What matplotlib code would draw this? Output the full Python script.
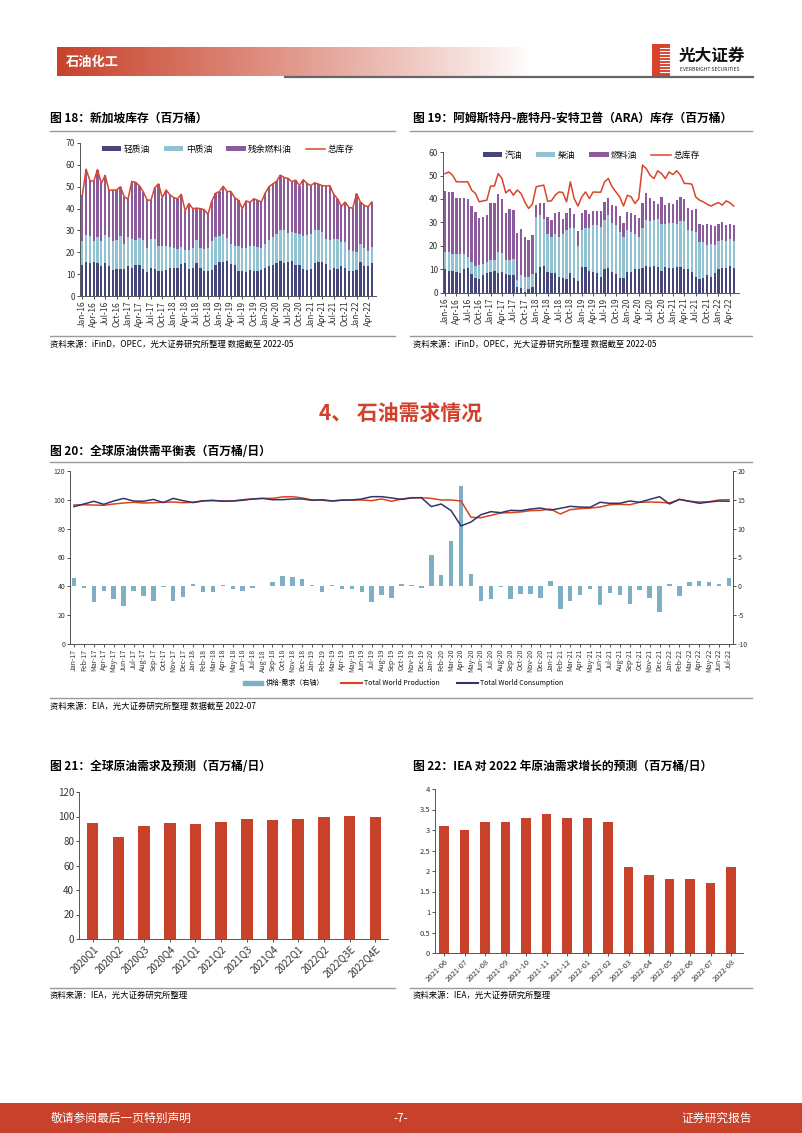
import numpy as np
import matplotlib
matplotlib.use('Agg')
import matplotlib.pyplot as plt
from matplotlib.patches import Rectangle, Patch
from matplotlib.lines import Line2D
from matplotlib.ticker import FormatStrFormatter

plt.rcParams['font.family'] = ['Noto Sans CJK SC', 'DejaVu Sans']
plt.rcParams['axes.unicode_minus'] = False

# ---------------- data ----------------
# Chart 18 : Singapore inventories (Jan-16 .. May-22)
sg_light = [14, 15.5, 15, 15.5, 15, 13.5, 15, 13.5, 12, 12.5, 12.5, 12.5,
            13.5, 13, 14, 14, 12.5, 11, 13, 12.5, 11.5, 11.5, 12, 13,
            13, 13, 14.5, 15, 12.5, 13, 15, 13, 11.5, 11.5, 12, 14,
            15.5, 15.5, 16, 14.5, 14, 11.5, 11.5, 11, 12, 11.5, 11.5, 12,
            13, 13.5, 14, 15, 16, 15, 15.5, 16, 14, 14, 12.5, 12,
            12.5, 15, 15.5, 15.5, 14.5, 12, 13, 12.5, 13.5, 13, 11.5, 11.5,
            12, 15.5, 13.5, 13.5, 15]
sg_middle = [11, 12.5, 12.5, 9.5, 12, 11.5, 13, 13.5, 13, 13, 15, 11.5,
             13.5, 13, 11.5, 12.5, 13, 11, 13, 13.5, 11.5, 11.5, 11, 9.5,
             9, 8.5, 8, 6, 8.5, 9, 10.5, 9, 10, 10.5, 13, 13,
             12, 13, 10.5, 9.5, 9, 11.5, 10.5, 11, 11, 11.5, 11, 10,
             11, 12, 13, 13.5, 14, 15, 13.5, 13.5, 15, 14.5, 15, 16,
             16, 15, 14.5, 14, 11.5, 13.5, 13, 13.5, 11, 11.5, 9.5, 9,
             8, 8.5, 8.5, 7, 7.5]
sg_resid = [21, 30, 25.3, 27.5, 30.8, 26.5, 27.2, 21.3, 23.5, 23, 22.5, 21.5,
            17.3, 26.4, 26.5, 23.9, 22.2, 22, 17.7, 23.5, 28.3, 22, 25.5, 23.8,
            23, 23, 24, 18, 21.3, 18, 14.7, 18, 18, 15.3, 18.5, 20,
            20.3, 21.7, 21.3, 23.8, 22, 20.8, 18, 21.5, 19.8, 21.5, 21.3, 21,
            23, 24.5, 24.3, 24, 25.3, 24.2, 24.8, 22.8, 24, 22, 25.7, 23.5,
            22, 21.8, 21.2, 21, 24.3, 25, 20.5, 18.5, 16.5, 18.5, 19.5, 19.7,
            26.8, 19, 19.5, 20.3, 20.5]
sg_total = [46, 58, 52.8, 52.5, 57.8, 51.5, 55.2, 48.3, 48.5, 48.5, 50, 45.5,
            44.3, 52.4, 52, 50.4, 47.7, 44, 43.7, 49.5, 51.3, 45, 48.5, 46.3,
            45, 44.5, 46.5, 39, 42.3, 40, 40.2, 40, 39.5, 37.3, 43.5, 47,
            47.8, 50.2, 47.8, 47.8, 45, 43.8, 40, 43.5, 42.8, 44.5, 43.8, 43,
            47, 50, 51.3, 52.5, 55.3, 54.2, 53.8, 52.3, 53, 50.5, 53.2, 51.5,
            50.5, 51.8, 51.2, 50.5, 50.3, 50.5, 46.5, 44.5, 41, 43, 40.5, 40.2,
            46.8, 43, 41.5, 40.8, 43]

# Chart 19 : ARA inventories (Jan-16 .. May-22)
ara_gasoline = [10, 9.5, 9.5, 9, 8.5, 10, 10.5, 8, 6.5, 6, 7.5, 8.5,
                9, 9.5, 8.5, 9, 8, 7.5, 7.5, 2.5, 2, 0.5, 1.5, 2.5,
                8.5, 11, 11.5, 9, 8.5, 8.5, 7, 6.5, 6, 8.5, 6.5, 5,
                11, 11, 9.5, 9, 8.5, 7, 10, 10.5, 9, 8, 6.5, 6.5,
                9, 9, 10, 10, 10.5, 11.5, 11, 11.5, 11, 9.5, 11, 10.5,
                10.5, 11, 11, 10, 10, 9, 7, 6, 6.5, 7.5, 7, 8.5,
                10, 10.5, 10.5, 11.5, 10.5]
ara_gasoil = [7.5, 8, 7, 7.5, 8, 6.5, 5, 5, 5, 6, 5, 4.5,
              5, 4.5, 9, 8, 6, 6.5, 7, 3, 5.5, 6.5, 5.5, 5.5,
              24, 22, 20, 16, 15.5, 16.5, 17, 18.5, 21, 19, 21, 15,
              16, 16.5, 18, 20, 20.5, 21, 21, 22.5, 21, 21, 19.5, 17.5,
              18, 17, 15, 14, 17, 19.5, 19.5, 19.5, 20.5, 20, 18.5, 19.5,
              19.5, 18.5, 19.5, 20.5, 17, 17.5, 19, 15.5, 15, 13, 14, 12,
              12, 12, 11.5, 11.5, 11.5]
ara_fueloil = [26, 25.5, 26.5, 24, 23.8, 24, 24.5, 24, 23, 20, 20, 20,
               24.5, 24.5, 24.5, 23.2, 20, 21.8, 20.7, 20, 19.7, 17, 15.5, 16.5,
               5, 5.5, 6.7, 7.5, 7, 9, 10.5, 6.5, 7, 8.5, 6, 6.2,
               7.2, 8, 6, 6, 5.8, 7, 7.8, 7.5, 7.5, 8, 6.8, 5.8,
               7.5, 8.2, 8, 8, 11, 11.5, 10, 8.2, 6.5, 11.3, 8, 8.5,
               7.8, 10, 10.3, 9.7, 9.2, 9, 9.8, 8, 7.3, 8.8, 7.8, 8,
               7.2, 7.5, 7, 6.5, 6.8]
ara_total = [50.8, 51.5, 50.1, 47.3, 47.3, 47.3, 47.3, 43.8, 42.4, 38.8, 39.2, 39.5,
             45.5, 45.5, 50.8, 48.7, 42.6, 44, 41.6, 43.8, 42.4, 38.8, 36, 37.8,
             45.2, 45.6, 45.9, 39.1, 39.2, 41.6, 43, 42.8, 38.8, 47.3, 40.2, 37,
             40.9, 43, 40.2, 43, 42.9, 42.9, 47.3, 48.7, 45.2, 43, 40.9, 37,
             41.6, 40.9, 38.1, 40.1, 54.4, 52.9, 50.1, 48.7, 52, 50.8, 48.7, 51.5,
             50.4, 52, 50.1, 46.6, 46.6, 46.3, 40.9, 39.5, 38.8, 37.8, 37, 37.8,
             38.5, 37.4, 39.2, 38.4, 37]

# Chart 20 : world supply / demand (Jan-17 .. Jul-22)
world_production = [96.4, 96.6, 96.4, 96.2, 97.1, 97.8, 98.3, 97.8, 98.0, 98.3, 98.5, 98.0,
                    98.3, 99.4, 99.4, 99.2, 99.2, 100.1, 100.6, 101.0, 101.0, 102.0, 102.2, 101.3,
                    99.9, 99.7, 99.2, 99.9, 99.9, 99.9, 99.4, 100.6, 99.0, 100.6, 101.5, 101.5,
                    101.0, 99.9, 99.9, 99.2, 87.9, 87.6, 89.2, 90.9, 91.1, 91.6, 92.5, 92.7,
                    93.6, 90.2, 93.2, 93.9, 94.3, 95.0, 96.6, 96.9, 96.6, 98.3, 98.5, 98.3,
                    97.8, 100.3, 99.0, 98.5, 98.7, 99.9, 100.1]
world_consumption = [95.3, 97.1, 99.0, 96.9, 99.2, 101.0, 99.2, 99.0, 100.3, 98.1, 101.0, 99.4,
                     98.1, 99.2, 99.7, 99.0, 99.2, 99.7, 100.6, 101.0, 100.1, 100.1, 100.6, 100.6,
                     99.7, 100.1, 99.2, 99.7, 99.9, 100.6, 102.2, 102.2, 101.3, 100.3, 101.3, 101.5,
                     95.3, 97.1, 92.5, 81.9, 84.6, 89.7, 91.8, 91.1, 92.7, 92.5, 93.6, 94.3,
                     92.9, 94.1, 95.5, 95.0, 94.8, 98.3, 97.6, 97.6, 99.2, 98.3, 100.3, 102.2,
                     97.1, 100.3, 99.0, 97.6, 98.5, 99.2, 99.0]
supply_minus_demand = [1.45, -0.3, -2.8, -0.75, -2.25, -3.35, -0.75, -1.6, -2.6, -0.1, -2.5, -1.9,
                       0.35, -1.0, -0.9, 0.3, -0.45, -0.8, -0.35, 0.05, 0.8, 1.8, 1.55, 1.2,
                       0.2, -1.05, 0.2, -0.5, -0.5, -1.05, -2.7, -1.45, -1.95, 0.35, 0.3, -0.3,
                       5.4, 2.0, 7.8, 17.45, 2.1, -2.55, -2.25, -0.1, -2.25, -1.3, -1.3, -1.95,
                       1.0, -3.85, -2.5, -1.5, -0.5, -3.25, -1.1, -1.55, -3.0, -0.6, -1.95, -4.45,
                       0.45, -1.75, 0.75, 0.9, 0.7, 0.35, 1.5]

# Chart 21 : global demand and forecast
q_labels = ['2020Q1', '2020Q2', '2020Q3', '2020Q4', '2021Q1', '2021Q2', '2021Q3',
            '2021Q4', '2022Q1', '2022Q2', '2022Q3E', '2022Q4E']
q_demand = [94.5, 83.5, 92.5, 94.5, 93.5, 95.5, 98.0, 97.5, 98.0, 99.5, 100.5, 100.0]

# Chart 22 : IEA forecast for 2022 demand growth
iea_labels = ['2021-06', '2021-07', '2021-08', '2021-09', '2021-10', '2021-11', '2021-12',
              '2022-01', '2022-02', '2022-03', '2022-04', '2022-05', '2022-06', '2022-07', '2022-08']
iea_growth = [3.1, 3.0, 3.2, 3.2, 3.3, 3.4, 3.3, 3.3, 3.2, 2.1, 1.9, 1.8, 1.8, 1.7, 2.1]

mon = ['Jan', 'Feb', 'Mar', 'Apr', 'May', 'Jun', 'Jul', 'Aug', 'Sep', 'Oct', 'Nov', 'Dec']
months_16 = [f'{mon[k % 12]}-{16 + k // 12}' for k in range(len(sg_total))]
months_17 = [f'{mon[k % 12]}-{17 + k // 12}' for k in range(len(world_production))]

# ---------------- style ----------------
C_RED = '#C8412A'
C_DARK = '#47467A'
C_LBLUE = '#92C3D3'
C_PURPLE = '#8C5B9C'
C_LINE = '#D9452B'
C_BAR20 = '#7EAFC4'
C_CONS = '#353468'
AXC = '#555555'

W, H = 802, 1133
fig = plt.figure(figsize=(W / 100, H / 100), dpi=100)


def pax(x0, y0, x1, y1, **kw):
    return fig.add_axes([x0 / W, 1 - y1 / H, (x1 - x0) / W, (y1 - y0) / H], **kw)


def ftext(x, y, s, **kw):
    fig.text(x / W, 1 - y / H, s, **kw)


def hline(x0, x1, y, color='#9a9a9a', lw=1.0):
    fig.add_artist(Line2D([x0 / W, x1 / W], [1 - y / H, 1 - y / H], color=color, lw=lw))


def style_ax(ax, fs):
    for s in ['top', 'right']:
        ax.spines[s].set_visible(False)
    for s in ['left', 'bottom']:
        ax.spines[s].set_color(AXC)
        ax.spines[s].set_linewidth(0.7)
    ax.tick_params(colors='#333333', labelsize=fs, length=2, width=0.6, pad=1.5)


def stacked_legend(ax, y):
    h, l = ax.get_legend_handles_labels()
    h = h[1:] + h[:1]
    l = l[1:] + l[:1]
    ax.legend(h, l, ncol=4, loc='center', bbox_to_anchor=(0.5, y), frameon=False, fontsize=6.3,
              handlelength=2.2, handleheight=0.5, columnspacing=1.6, handletextpad=0.3)


# ---------------- header ----------------
axh = pax(57, 47, 532, 76)
grad = np.ones((1, 256, 4))
grad[0, :, 0] = 200 / 255
grad[0, :, 1] = 65 / 255
grad[0, :, 2] = 42 / 255
grad[0, :, 3] = np.linspace(1, 0, 256) ** 0.9
axh.imshow(grad, aspect='auto', extent=[0, 1, 0, 1])
axh.axis('off')
ftext(66, 62, '石油化工', color='white', fontsize=9.5, fontweight='bold', va='center')
hline(285, 753, 76.5, color='#666666', lw=1.6)
# logo
axl = pax(652, 44, 670, 76)
axl.add_patch(Rectangle((0, 0), 1, 1, color='#D8432B'))
for yy in np.linspace(0.12, 0.88, 9):
    axl.plot([0.45, 1.0], [yy, yy], color='white', lw=0.8)
axl.set_xlim(0, 1); axl.set_ylim(0, 1); axl.axis('off')
ftext(679, 56, '光大证券', fontsize=12, fontweight='bold', color='#111111', va='center')
ftext(680, 69.5, 'EVERBRIGHT SECURITIES', fontsize=3.6, color='#222222', va='center')

# ---------------- chart 18 ----------------
ftext(50, 118, '图 18：新加坡库存（百万桶）', fontsize=8.5, fontweight='bold', va='center')
hline(50, 395, 131)
ax = pax(80, 143, 376, 296)
x = np.arange(len(sg_total))
b1 = np.array(sg_light)
b2 = b1 + np.array(sg_middle)
ax.bar(x, sg_light, width=0.6, color=C_DARK, label='轻质油')
ax.bar(x, sg_middle, width=0.6, bottom=b1, color=C_LBLUE, label='中质油')
ax.bar(x, sg_resid, width=0.6, bottom=b2, color=C_PURPLE, label='残余燃料油')
ax.plot(x, sg_total, color=C_LINE, lw=1.1, label='总库存')
ax.set_xlim(-0.6, 77.1)
ax.set_ylim(0, 70)
ax.set_yticks(range(0, 71, 10))
ax.set_xticks(x[::3])
ax.set_xticklabels(months_16[::3], rotation=90)
style_ax(ax, 6)
stacked_legend(ax, 0.96)
hline(50, 395, 336)
ftext(50, 344, '资料来源：iFinD，OPEC，光大证券研究所整理 数据截至 2022-05', fontsize=6, va='center')

# ---------------- chart 19 ----------------
ftext(413, 118, '图 19：阿姆斯特丹-鹿特丹-安特卫普（ARA）库存（百万桶）', fontsize=8.5,
      fontweight='bold', va='center')
hline(410, 752, 131)
ax = pax(443, 152, 739, 293)
x = np.arange(len(ara_total))
c1 = np.array(ara_gasoline)
c2 = c1 + np.array(ara_gasoil)
ax.bar(x, ara_gasoline, width=0.6, color=C_DARK, label='汽油')
ax.bar(x, ara_gasoil, width=0.6, bottom=c1, color=C_LBLUE, label='柴油')
ax.bar(x, ara_fueloil, width=0.6, bottom=c2, color=C_PURPLE, label='燃料油')
ax.plot(x, ara_total, color=C_LINE, lw=1.1, label='总库存')
ax.set_xlim(-0.53, 77.4)
ax.set_ylim(0, 60)
ax.set_yticks(range(0, 61, 10))
ax.set_xticks(x[::3])
ax.set_xticklabels(months_16[::3], rotation=90)
style_ax(ax, 6)
stacked_legend(ax, 0.975)
hline(410, 752, 336)
ftext(413, 344, '资料来源：iFinD，OPEC，光大证券研究所整理 数据截至 2022-05', fontsize=6, va='center')

# ---------------- section heading ----------------
ftext(401, 414, '4、 石油需求情况', fontsize=15, fontweight='bold', color='#D0402A',
      ha='center', va='center')

# ---------------- chart 20 ----------------
ftext(50, 452, '图 20：全球原油供需平衡表（百万桶/日）', fontsize=8.5, fontweight='bold', va='center')
hline(50, 752, 462)
axr = pax(70, 471, 733, 644)
axl2 = axr.twinx()
x = np.arange(len(world_production))
axr.bar(x, supply_minus_demand, width=0.45, color=C_BAR20)
axr.set_ylim(-10, 20)
axr.yaxis.tick_right()
axr.set_yticks(range(-10, 21, 5))
axl2.yaxis.tick_left()
axl2.plot(x, world_production, color='#D9431E', lw=1.1)
axl2.plot(x, world_consumption, color=C_CONS, lw=1.1)
axl2.set_ylim(0, 120)
axl2.set_yticks(range(0, 121, 20))
axr.set_xlim(-0.4, 66.4)
axr.set_xticks(x)
axr.set_xticklabels(months_17, rotation=90)
for a in (axr, axl2):
    a.spines['top'].set_visible(False)
    for s in ['left', 'right', 'bottom']:
        a.spines[s].set_color(AXC)
        a.spines[s].set_linewidth(0.7)
    a.tick_params(colors='#333333', labelsize=5, length=2, width=0.6, pad=1.5)
handles = [Patch(color=C_BAR20), Line2D([], [], color='#D9431E', lw=1.5),
           Line2D([], [], color=C_CONS, lw=1.5)]
fig.legend(handles, ['供给-需求（右轴）', 'Total World Production', 'Total World Consumption'],
           loc='center', bbox_to_anchor=(403 / W, 1 - 683 / H), ncol=3, frameon=False,
           fontsize=5, handlelength=3, handleheight=0.5, columnspacing=2.5, handletextpad=0.3)
hline(50, 752, 698)
ftext(50, 706, '资料来源：EIA，光大证券研究所整理 数据截至 2022-07', fontsize=6, va='center')

# ---------------- chart 21 ----------------
ftext(50, 766, '图 21：全球原油需求及预测（百万桶/日）', fontsize=8.5, fontweight='bold', va='center')
ax = pax(79, 792, 388, 939)
x = np.arange(len(q_demand))
ax.bar(x, q_demand, width=0.45, color=C_RED)
ax.set_xlim(-0.53, 11.49)
ax.set_ylim(0, 120)
ax.set_yticks(range(0, 121, 20))
ax.set_xticks(x)
ax.set_xticklabels(q_labels, rotation=45, ha='right', rotation_mode='anchor')
style_ax(ax, 7)
hline(50, 395, 988)
ftext(50, 995, '资料来源：IEA，光大证券研究所整理', fontsize=6, va='center')

# ---------------- chart 22 ----------------
ftext(413, 766, '图 22：IEA 对 2022 年原油需求增长的预测（百万桶/日）', fontsize=8.5,
      fontweight='bold', va='center')
ax = pax(435, 789, 743, 953)
x = np.arange(len(iea_growth))
ax.bar(x, iea_growth, width=0.45, color=C_RED)
ax.set_xlim(-0.44, 14.58)
ax.set_ylim(0, 4)
ax.set_yticks(np.arange(0, 4.01, 0.5))
ax.yaxis.set_major_formatter(FormatStrFormatter('%g'))
ax.set_xticks(x)
ax.set_xticklabels(iea_labels, rotation=45, ha='right', rotation_mode='anchor')
style_ax(ax, 5.5)
hline(410, 752, 988)
ftext(413, 995, '资料来源：IEA，光大证券研究所整理', fontsize=6, va='center')

# ---------------- footer ----------------
fig.add_artist(Rectangle((0, 0), 1, 30 / H, transform=fig.transFigure, color=C_RED, lw=0))
ftext(51, 1118, '敬请参阅最后一页特别声明', fontsize=8.5, color='white', va='center')
ftext(401, 1118, '-7-', fontsize=8.5, color='white', va='center', ha='center')
ftext(752, 1118, '证券研究报告', fontsize=8.5, color='white', va='center', ha='right')

fig.savefig('out.png', dpi=100)
